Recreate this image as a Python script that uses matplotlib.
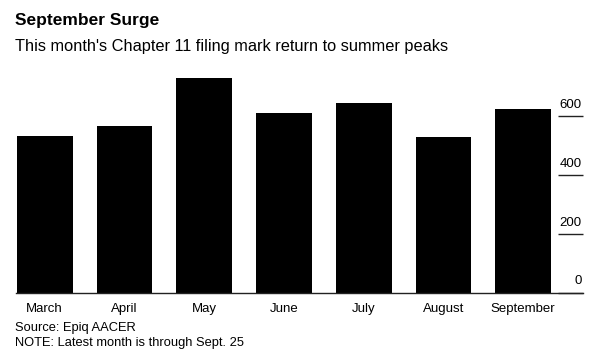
import matplotlib
matplotlib.use("Agg")
import matplotlib.pyplot as plt
import matplotlib.transforms as mtransforms

months = ["March", "April", "May", "June", "July", "August", "September"]
filings = [532, 567, 728, 611, 646, 530, 623]
yticks = [0, 200, 400, 600]

plt.rcParams['font.family'] = ['Liberation Sans', 'DejaVu Sans']

fig = plt.figure(figsize=(6, 3.6), dpi=100)
ax = fig.add_axes([16/600, 67/360, (583-16)/600, (288-67)/360])

x = list(range(len(months)))
ax.bar(x, filings, width=0.70, color="black", zorder=2)
ax.set_xlim(-0.36, 6.75)
ax.set_ylim(0, 750)

for s in ["top", "left", "right"]:
    ax.spines[s].set_visible(False)
ax.spines["bottom"].set_color("#222222")
ax.spines["bottom"].set_linewidth(1.0)

ax.set_xticks(x)
ax.set_xticklabels(months, fontsize=9.5)
ax.tick_params(axis="x", length=0, pad=7)

ax.yaxis.tick_right()
ax.set_yticks(yticks)
ax.set_yticklabels([])
ax.tick_params(axis="y", direction="in", length=18, width=1.0, color="#222222", right=True, left=False)

trans = mtransforms.blended_transform_factory(ax.transAxes, ax.transData)
for v in yticks:
    ax.annotate(str(v), xy=(1.0, v), xycoords=trans, xytext=(-1, 4),
                textcoords="offset points", ha="right", va="bottom", fontsize=9.5)

fig.text(15/600, 1 - 21/360, "September Surge", fontsize=12.5, fontweight="bold", va="center", ha="left")
fig.text(15/600, 1 - 46/360, "This month's Chapter 11 filing mark return to summer peaks", fontsize=11.8, va="center", ha="left")
fig.text(15/600, 1 - 328/360, "Source: Epiq AACER", fontsize=9.3, va="center", ha="left")
fig.text(15/600, 1 - 343/360, "NOTE: Latest month is through Sept. 25", fontsize=9.3, va="center", ha="left")

fig.savefig("out.png", dpi=100)
